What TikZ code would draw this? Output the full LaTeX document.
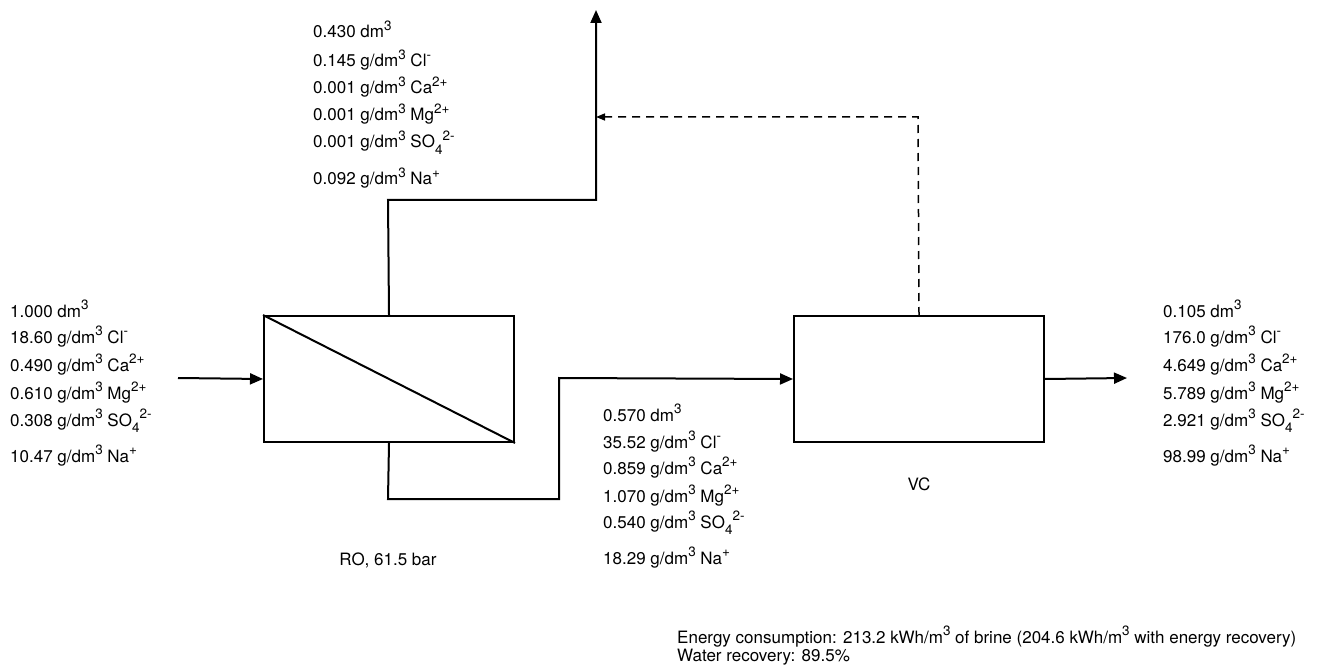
\documentclass[tikz,border=0pt]{standalone}
\usepackage{fontspec}
\setmainfont{TeX Gyre Heros}
\usetikzlibrary{arrows.meta}
\newcommand\psup[1]{\raisebox{0.45em}{\fontsize{13.5}{13.5}\selectfont #1}}
\newcommand\psub[1]{\raisebox{-0.36em}{\fontsize{13.5}{13.5}\selectfont #1}}
\tikzset{
  txt/.style={anchor=base west, inner sep=0pt, font=\fontsize{17}{20}\selectfont},
  unit/.style={draw, line width=2pt, minimum width=250pt, minimum height=126pt, anchor=north west, inner sep=0pt},
  flow/.style={line width=2pt, -{Triangle[length=13pt,width=11pt]}},
  pipe/.style={line width=2pt},
  recyc/.style={line width=1.5pt, dash pattern=on 8pt off 6pt, -{Triangle[length=9pt,width=7pt]}}
}
\begin{document}
\begin{tikzpicture}[x=1pt,y=-1pt]
\useasboundingbox (0,0) rectangle (1324,668);
% units
\node[unit] (ro) at (263,315) {};
\node[unit] (vc) at (793,315) {};
\draw[pipe] (ro.north west) -- (ro.south east);
% coordinates
\coordinate (fin) at (178,378);
\coordinate (pt1) at (388,200);
\coordinate (pt2) at (596,200);
\coordinate (ptop) at (596,10);
\coordinate (pb1) at (388,499);
\coordinate (pb2) at (559,499);
\coordinate (pb3) at (559,378);
\coordinate (d1) at (918,117);
\coordinate (d2) at (596,117);
\coordinate (fout) at (1127,378);
% connectors
\draw[flow] (fin) -- (ro.west);
\draw[flow] (ro.north) -- (pt1) -- (pt2) -- (ptop);
\draw[flow] (ro.south) -- (pb1) -- (pb2) -- (pb3) -- (vc.west);
\draw[recyc] (vc.north) -- (d1) -- (d2);
\draw[flow] (vc.east) -- (fout);
% top block
\node[txt] (t1) at (313,38) {0.430 dm\psup{3}};
\node[txt] (t2) at (313,67) {0.145 g/dm\psup{3} Cl\psup{-}};
\node[txt] (t3) at (313,94) {0.001 g/dm\psup{3} Ca\psup{2+}};
\node[txt] (t4) at (313,121) {0.001 g/dm\psup{3} Mg\psup{2+}};
\node[txt] (t5) at (313,148) {0.001 g/dm\psup{3} SO\psub{4}\psup{2-}};
\node[txt] (t6) at (313,185) {0.092 g/dm\psup{3} Na\psup{+}};
% left block
\node[txt] (l1) at (10,317) {1.000 dm\psup{3}};
\node[txt] (l2) at (10,343) {18.60 g/dm\psup{3} Cl\psup{-}};
\node[txt] (l3) at (10,371) {0.490 g/dm\psup{3} Ca\psup{2+}};
\node[txt] (l4) at (10,399) {0.610 g/dm\psup{3} Mg\psup{2+}};
\node[txt] (l5) at (10,426) {0.308 g/dm\psup{3} SO\psub{4}\psup{2-}};
\node[txt] (l6) at (10,462) {10.47 g/dm\psup{3} Na\psup{+}};
% middle block
\node[txt] (m1) at (603,421) {0.570 dm\psup{3}};
\node[txt] (m2) at (603,448) {35.52 g/dm\psup{3} Cl\psup{-}};
\node[txt] (m3) at (603,474) {0.859 g/dm\psup{3} Ca\psup{2+}};
\node[txt] (m4) at (603,502) {1.070 g/dm\psup{3} Mg\psup{2+}};
\node[txt] (m5) at (603,528) {0.540 g/dm\psup{3} SO\psub{4}\psup{2-}};
\node[txt] (m6) at (603,564) {18.29 g/dm\psup{3} Na\psup{+}};
% right block
\node[txt] (r1) at (1163,317) {0.105 dm\psup{3}};
\node[txt] (r2) at (1163,343) {176.0 g/dm\psup{3} Cl\psup{-}};
\node[txt] (r3) at (1163,371) {4.649 g/dm\psup{3} Ca\psup{2+}};
\node[txt] (r4) at (1163,399) {5.789 g/dm\psup{3} Mg\psup{2+}};
\node[txt] (r5) at (1163,426) {2.921 g/dm\psup{3} SO\psub{4}\psup{2-}};
\node[txt] (r6) at (1163,462) {98.99 g/dm\psup{3} Na\psup{+}};
% labels
\node[txt, anchor=base] (rolab) at (388,565) {RO, 61.5 bar};
\node[txt, anchor=base] (vclab) at (919,490) {VC};
\node[txt] (e1) at (677,643) {Energy consumption: 213.2 kWh/m\psup{3} of brine (204.6 kWh/m\psup{3} with energy recovery)};
\node[txt] (e2) at (677,661) {Water recovery: 89.5\%};
\end{tikzpicture}
\end{document}
